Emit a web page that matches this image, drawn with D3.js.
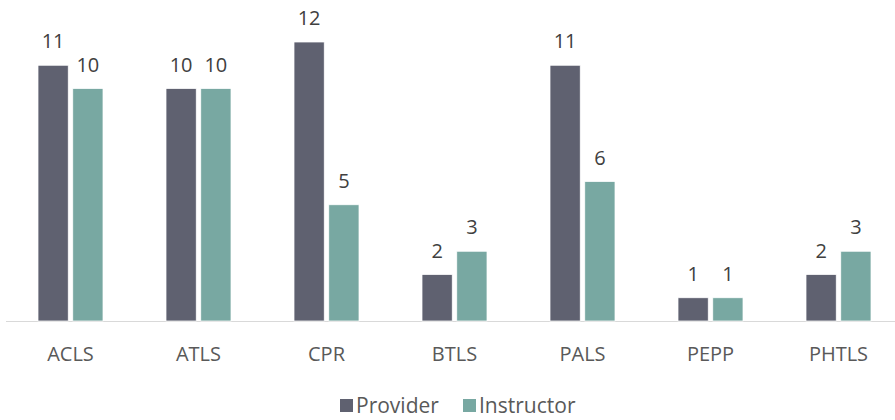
<!DOCTYPE html>
<html lang="en">
<head>
<meta charset="UTF-8">
<title>Provider vs Instructor</title>
<script src="https://d3js.org/d3.v7.min.js"></script>
<style>
  body { margin: 0; background: #fff; }
  svg { display: block; font-family: "Open Sans", "Noto Sans", sans-serif; }
</style>
</head>
<body>
<svg width="895" height="420"></svg>
<script>
const categories = ['ACLS', 'ATLS', 'CPR', 'BTLS', 'PALS', 'PEPP', 'PHTLS'];
const provider = [11, 10, 12, 2, 11, 1, 2];
const instructor = [10, 10, 5, 3, 6, 1, 3];
const seriesNames = ['Provider', 'Instructor'];
const colors = ['#5f6170', '#78a8a2'];

const svg = d3.select('svg');
const baseY = 321;

const x = d3.scaleBand().domain(categories).range([6.5, 902.5]);
const xs = d3.scaleBand().domain(seriesNames).range([0, 65]).paddingInner(0.13);
const y = d3.scaleLinear().domain([0, 12]).range([baseY, 42]);

const rows = categories.map((c, i) => ({ cat: c, vals: [provider[i], instructor[i]] }));

// axis line
svg.append('line')
    .attr('x1', 6).attr('x2', 895)
    .attr('y1', baseY + 0.5).attr('y2', baseY + 0.5)
    .attr('stroke', '#d9d9d9').attr('stroke-width', 1);

const groups = svg.selectAll('.grp')
    .data(rows)
    .enter()
    .append('g')
    .attr('class', 'grp')
    .attr('transform', d => `translate(${x(d.cat) + (x.bandwidth() - 65) / 2},0)`);

groups.selectAll('rect')
    .data(d => d.vals.map((v, j) => ({ name: seriesNames[j], v, j })))
    .enter()
    .append('rect')
    .attr('x', d => xs(d.name))
    .attr('width', xs.bandwidth())
    .attr('y', d => y(d.v))
    .attr('height', d => baseY - y(d.v))
    .attr('fill', d => colors[d.j])
    .attr('stroke', '#fff')
    .attr('stroke-width', 0.75);

groups.selectAll('text')
    .data(d => d.vals.map((v, j) => ({ name: seriesNames[j], v })))
    .enter()
    .append('text')
    .attr('x', d => xs(d.name) + xs.bandwidth() / 2)
    .attr('y', d => y(d.v) - 17)
    .attr('text-anchor', 'middle')
    .attr('font-size', 20)
    .attr('fill', '#404040')
    .text(d => d.v);

// category labels
svg.selectAll('.cat')
    .data(categories)
    .enter()
    .append('text')
    .attr('class', 'cat')
    .attr('x', d => x(d) + x.bandwidth() / 2)
    .attr('y', 361)
    .attr('text-anchor', 'middle')
    .attr('font-size', 20)
    .attr('fill', '#595959')
    .text(d => d);

// legend
const legendX = [340, 463];
const legend = svg.selectAll('.leg')
    .data(seriesNames)
    .enter()
    .append('g')
    .attr('class', 'leg')
    .attr('transform', (d, i) => `translate(${legendX[i]},399)`);
legend.append('rect')
    .attr('width', 13).attr('height', 13)
    .attr('fill', (d, i) => colors[i]);
legend.append('text')
    .attr('x', 16).attr('y', 14)
    .attr('font-size', 21)
    .attr('fill', '#595959')
    .text(d => d);
</script>
</body>
</html>
